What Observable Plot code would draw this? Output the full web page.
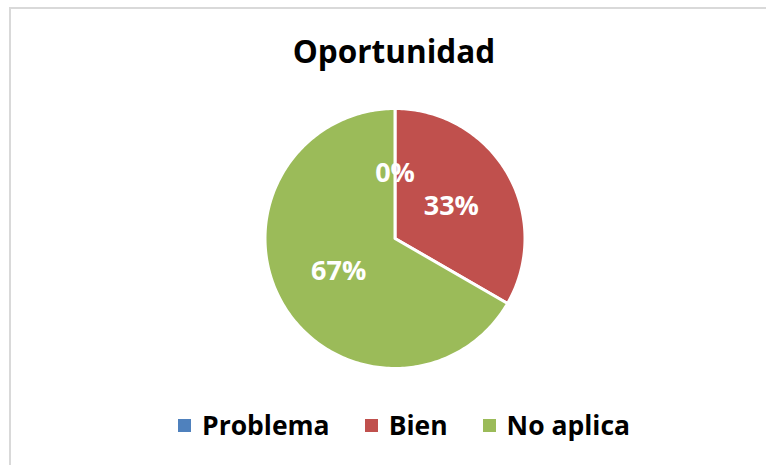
<!DOCTYPE html>
<html>
<head>
<meta charset="utf-8">
<script src="https://cdn.jsdelivr.net/npm/d3@7"></script>
<script src="https://cdn.jsdelivr.net/npm/@observablehq/plot@0.6"></script>
<style>
  html, body { margin: 0; padding: 0; background: #fff; overflow: hidden; }
  #root { position: relative; width: 766px; height: 465px; overflow: hidden; font-family: "Open Sans", sans-serif; }
  #frame { position: absolute; left: 9px; top: 7px; width: 900px; height: 600px; border-top: 2px solid #d9d9d9; border-left: 2px solid #d9d9d9; }
  #title { position: absolute; left: 0; width: 788px; top: 35px; text-align: center; font-weight: 700; font-size: 31.5px; line-height: 32px; color: #000; }
  #chart { position: absolute; left: 0; top: 100px; }
  #legend { position: absolute; left: 178px; top: 412px; display: flex; align-items: center; font-weight: 700; font-size: 26.5px; line-height: 27px; color: #000; white-space: nowrap; }
  .item { display: flex; align-items: center; margin-right: 35px; }
  .sw { width: 13px; height: 13px; margin-right: 11px; }
</style>
</head>
<body>
<div id="root">
  <div id="frame"></div>
  <div id="title"></div>
  <div id="chart"></div>
  <div id="legend"></div>
</div>
<script>
const titleText = "Oportunidad";
const categories = ["Problema", "Bien", "No aplica"];
const values = [0, 1, 2];
const percentLabels = ["0%", "33%", "67%"];
const colors = ["#4F81BD", "#C0504D", "#9BBB59"];

document.getElementById("title").textContent = titleText;

const data = categories.map((c, i) => ({key: c, value: values[i], label: percentLabels[i]}));
const arcs = d3.pie().sort(null).value(d => d.value).startAngle(0).endAngle(2 * Math.PI)(data);

// slice outlines in unit-radius data space (angle clockwise from 12 o'clock)
const outline = [];
for (const a of arcs) {
  const steps = Math.max(1, Math.ceil((a.endAngle - a.startAngle) / (Math.PI / 180)));
  outline.push({key: a.data.key, x: 0, y: 0});
  for (let s = 0; s <= steps; s++) {
    const t = a.startAngle + (a.endAngle - a.startAngle) * s / steps;
    outline.push({key: a.data.key, x: Math.sin(t), y: Math.cos(t)});
  }
}
const labelPos = arcs.map(a => {
  const m = (a.startAngle + a.endAngle) / 2;
  return {label: a.data.label, x: 0.5 * Math.sin(m), y: 0.5 * Math.cos(m)};
});

const W = 766, H = 280, cx = 394.5, cy = 138, unit = 130;
const plot = Plot.plot({
  width: W,
  height: H,
  margin: 0,
  x: {domain: [-cx / unit, (W - cx) / unit], axis: null},
  y: {domain: [-(H - cy) / unit, cy / unit], axis: null},
  color: {domain: categories, range: colors},
  style: {fontFamily: "Open Sans", background: "transparent"},
  marks: [
    Plot.line(outline, {x: "x", y: "y", z: "key", fill: "key", stroke: "white", strokeWidth: 3, curve: "linear-closed"}),
    Plot.text(labelPos, {x: "x", y: "y", text: "label", fill: "white", fontSize: 27, fontWeight: 700})
  ]
});
document.getElementById("chart").appendChild(plot);

const legend = document.getElementById("legend");
categories.forEach((c, i) => {
  const item = document.createElement("div");
  item.className = "item";
  const sw = document.createElement("div");
  sw.className = "sw";
  sw.style.background = colors[i];
  const tx = document.createElement("span");
  tx.textContent = c;
  item.appendChild(sw);
  item.appendChild(tx);
  legend.appendChild(item);
});
</script>
</body>
</html>
